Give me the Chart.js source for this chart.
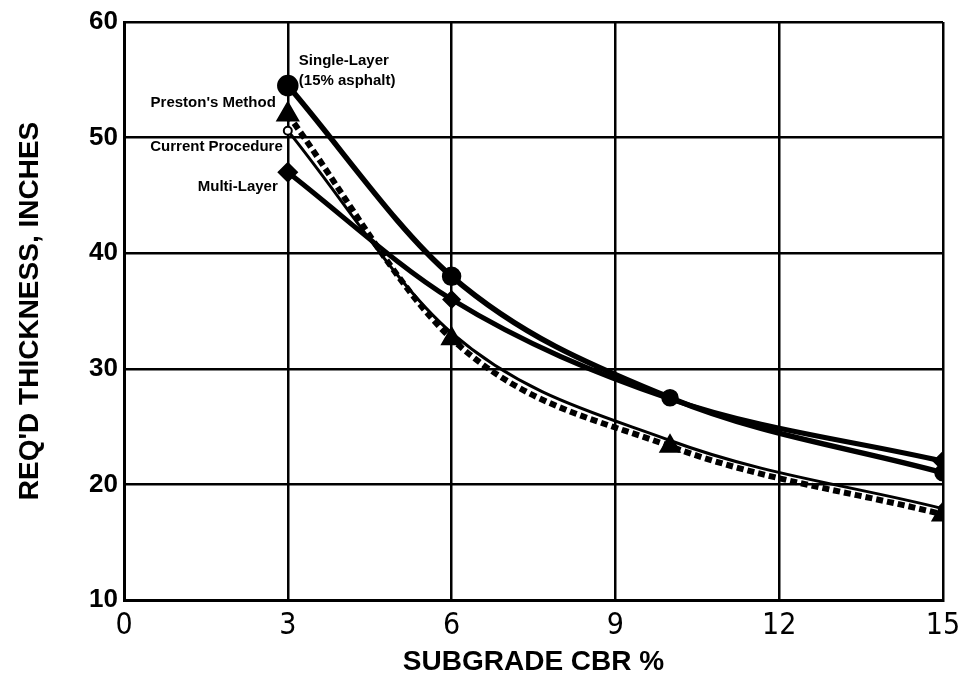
<!DOCTYPE html>
<html>
<head>
<meta charset="utf-8">
<script src="https://cdn.jsdelivr.net/npm/chart.js@4/dist/chart.umd.min.js"></script>
<style>
  html, body { margin: 0; padding: 0; background: #fff; }
  #wrap { width: 962px; height: 679px; position: relative; }
</style>
</head>
<body>
<div id="wrap"><canvas id="c" width="962" height="679"></canvas></div>
<script>
// Subgrade CBR values where the design curves were evaluated
const cbr = [3, 6, 10, 15];

// Required thickness (inches) for each method
const singleLayer = [54.5, 38, 27.5, 21];
const multiLayer = [47, 36, 27.4, 22];
const prestonMethod = [52, 32.6, 23.3, 17.4];
const currentProcedure = [50.6, 33.1, 23.8, 17.9];

// Axis ticks
const xTicks = [0, 3, 6, 9, 12, 15];
const yTicks = [10, 20, 30, 40, 50, 60];

const xLabel = 'SUBGRADE CBR %';
const yLabel = "REQ'D THICKNESS, INCHES";

const pairs = (ys) => cbr.map((x, i) => ({ x: x, y: ys[i] }));

// Curve labels placed next to the CBR = 3 end of each curve
const curveLabels = {
  id: 'curveLabels',
  afterDatasetsDraw(chart) {
    const { ctx, scales: { x, y } } = chart;
    const x3 = x.getPixelForValue(3);
    ctx.save();
    ctx.fillStyle = '#000';
    ctx.font = 'bold 15px "Liberation Sans", Arial, sans-serif';
    ctx.textBaseline = 'middle';
    ctx.textAlign = 'left';
    ctx.fillText('Single-Layer', x3 + 11, y.getPixelForValue(56.6));
    ctx.fillText('(15% asphalt)', x3 + 11, y.getPixelForValue(54.9));
    ctx.textAlign = 'right';
    ctx.fillText("Preston's Method", x3 - 12, y.getPixelForValue(53));
    ctx.fillText('Current Procedure', x3 - 5, y.getPixelForValue(49.2));
    ctx.fillText('Multi-Layer', x3 - 10, y.getPixelForValue(45.7));
    ctx.restore();
  }
};

new Chart(document.getElementById('c'), {
  type: 'line',
  data: {
    datasets: [
      {
        label: 'Single-Layer (15% asphalt)',
        data: pairs(singleLayer),
        borderColor: '#000',
        backgroundColor: '#000',
        borderWidth: 5.5,
        pointStyle: 'circle',
        pointRadius: [8, 7, 6, 6],
        pointBackgroundColor: '#000',
        cubicInterpolationMode: 'monotone'
      },
      {
        label: 'Multi-Layer',
        data: pairs(multiLayer),
        borderColor: '#000',
        backgroundColor: '#000',
        borderWidth: 5,
        pointStyle: 'rectRot',
        pointRadius: [7, 6, 0, 7],
        pointBackgroundColor: '#000',
        cubicInterpolationMode: 'monotone'
      },
      {
        label: "Preston's Method",
        data: pairs(prestonMethod),
        borderColor: '#000',
        backgroundColor: '#000',
        borderWidth: 6,
        borderDash: [7, 4],
        pointStyle: 'triangle',
        pointRadius: [8, 7, 7, 8],
        pointBackgroundColor: '#000',
        cubicInterpolationMode: 'monotone'
      },
      {
        label: 'Current Procedure',
        data: pairs(currentProcedure),
        borderColor: '#000',
        backgroundColor: '#fff',
        borderWidth: 3,
        pointStyle: 'circle',
        pointRadius: [4, 0, 0, 4],
        pointBorderWidth: 2,
        pointBackgroundColor: '#fff',
        cubicInterpolationMode: 'monotone'
      }
    ]
  },
  options: {
    responsive: false,
    animation: false,
    layout: { padding: { top: 22, right: 19, left: 0, bottom: 0 } },
    plugins: {
      legend: { display: false },
      tooltip: { enabled: false }
    },
    scales: {
      x: {
        type: 'linear',
        min: 0,
        max: 15,
        afterBuildTicks(scale) { scale.ticks = xTicks.map(v => ({ value: v })); },
        afterFit(scale) {
          scale.height = 79;
          scale.paddingLeft = 0;
          scale.paddingRight = 0;
        },
        grid: { color: '#000', lineWidth: 2.5, drawTicks: false },
        border: { color: '#000', width: 3 },
        ticks: {
          color: '#000',
          padding: 8,
          maxRotation: 0,
          font: { family: '"Liberation Sans Narrow", "DejaVu Sans Condensed", sans-serif', size: 30 }
        },
        title: {
          display: true,
          text: xLabel,
          color: '#000',
          padding: { top: 0, bottom: 0 },
          font: { family: '"Liberation Sans", Arial, sans-serif', size: 28, weight: 'bold' }
        }
      },
      y: {
        type: 'linear',
        min: 10,
        max: 60,
        afterBuildTicks(scale) { scale.ticks = yTicks.map(v => ({ value: v })); },
        afterFit(scale) {
          scale.width = 124;
          scale.paddingTop = 0;
          scale.paddingBottom = 0;
        },
        grid: { color: '#000', lineWidth: 2.5, drawTicks: false },
        border: { color: '#000', width: 3 },
        ticks: {
          color: '#000',
          padding: 6,
          font: { family: '"Liberation Sans", Arial, sans-serif', size: 26, weight: 'bold' }
        },
        title: {
          display: true,
          text: yLabel,
          color: '#000',
          padding: { top: 13, bottom: 0 },
          font: { family: '"Liberation Sans", Arial, sans-serif', size: 28, weight: 'bold' }
        }
      }
    }
  },
  plugins: [curveLabels]
});
</script>
</body>
</html>
